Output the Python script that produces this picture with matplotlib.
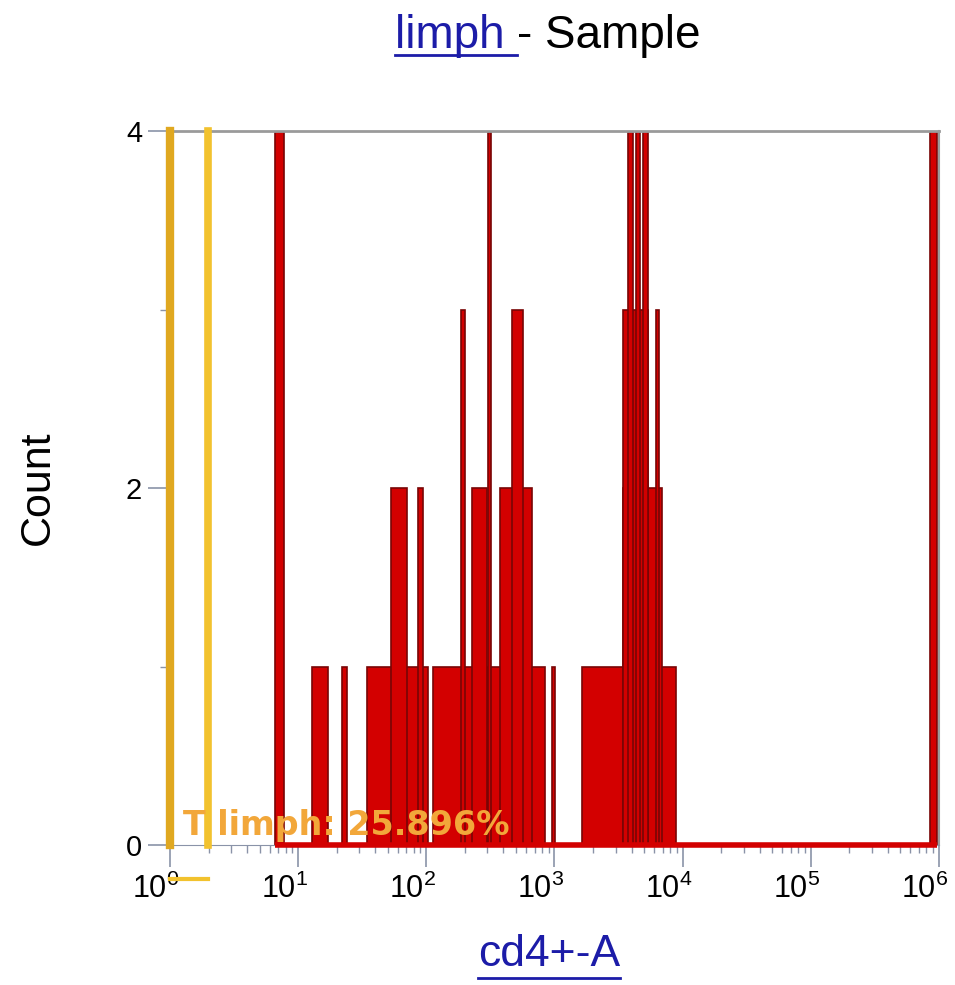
import matplotlib
matplotlib.use('Agg')
import matplotlib.pyplot as plt
import matplotlib.ticker as mticker
from matplotlib.lines import Line2D
from matplotlib.transforms import ScaledTranslation
import numpy as np

plt.rcParams['font.family'] = ['Liberation Sans', 'DejaVu Sans']

# Histogram segments: cd4+-A range (lo, hi) and event count
seg_lo = [34.6, 113, 12.9, 22.1, 964, 1655,
          53.3, 86.6, 229, 379, 3459,
          188, 470, 3459, 6155,
          6.6, 305, 3786, 4374, 4958, 851000]
seg_hi = [104, 851, 17.2, 24.1, 1018, 8817,
          71.1, 94.8, 300, 673, 6979,
          202, 573, 5420, 6610,
          7.8, 322, 4141, 4698, 5420, 964000]
seg_count = [1, 1, 1, 1, 1, 1,
             2, 2, 2, 2, 2,
             3, 3, 3, 3,
             4, 4, 4, 4, 4, 4]

# Gate "T limph" (yellow markers)
gate_lo, gate_hi = 1.0, 1.98
gate_label = 'T limph: 25.896%'

decades = [0, 1, 2, 3, 4, 5, 6]

red = '#D30000'
dark_red = '#780505'
blue = '#1C1CA8'
axis_gray = '#8A93A8'

fig = plt.figure(figsize=(9.55, 9.85), dpi=100)
ax = fig.add_axes([0.178, 0.1421, 0.805, 0.7249])

# bars, lowest first so taller outlines sit on top
lo = np.array(seg_lo)
hi = np.array(seg_hi)
cnt = np.array(seg_count)
order = np.argsort(cnt, kind='stable')
ax.bar(lo[order], cnt[order], width=hi[order] - lo[order], align='edge',
       color=red, edgecolor=dark_red, linewidth=1.2, zorder=2)
ax.hlines(0, lo.min(), hi.max(), color=red, lw=4, zorder=3, clip_on=False)

# gate markers
ax.axvline(gate_lo, color='#E0A820', lw=6, zorder=4, clip_on=False)
ax.axvline(gate_hi, color='#F2C22E', lw=5.5, zorder=4, clip_on=False)
ax.plot([gate_lo, gate_hi], [-0.19, -0.19], color='#F2C22E', lw=3,
        clip_on=False, zorder=4)
ax.text(0.017, 0.014, gate_label, transform=ax.transAxes, fontsize=24,
        fontweight='bold', family='DejaVu Sans', color='#F2A73A',
        va='baseline', zorder=5)

ax.set_xscale('log')
ax.set_xlim(1, 1e6)
ax.set_ylim(0, 4)

major = [10.0 ** d for d in decades]
minor = [m * 10.0 ** d for d in decades[:-1] for m in range(2, 10)]
ax.xaxis.set_major_locator(mticker.FixedLocator(major))
ax.xaxis.set_minor_locator(mticker.FixedLocator(minor))
ax.xaxis.set_minor_formatter(mticker.NullFormatter())
ax.xaxis.set_major_formatter(mticker.FixedFormatter(
    [r'$\mathregular{10^{%d}}$' % d for d in decades]))
ax.set_yticks([0, 2, 4])
ax.set_yticks([1, 3], minor=True)

ax.tick_params(axis='x', which='major', length=16, width=1.2, color=axis_gray,
               labelsize=22, pad=5)
ax.tick_params(axis='x', which='minor', length=6, width=1, color=axis_gray)
ax.tick_params(axis='y', which='major', length=16, width=1.2, color=axis_gray,
               labelsize=21, pad=4)
ax.tick_params(axis='y', which='minor', length=7, width=1, color=axis_gray)

offset = ScaledTranslation(7 / 72, 0, fig.dpi_scale_trans)
for lab in ax.get_xticklabels():
    lab.set_horizontalalignment('right')
    lab.set_transform(lab.get_transform() + offset)

for side in ['top', 'right', 'bottom', 'left']:
    ax.spines[side].set_color('#9A9A9A')
ax.spines['top'].set_linewidth(2)
ax.spines['right'].set_linewidth(1.5)
ax.spines['bottom'].set_color(axis_gray)

# title: underlined blue gate name followed by sample
t1 = fig.text(0.4136, 0.963, 'limph ', color=blue, fontsize=33, va='center')
t2 = ax.annotate('- Sample', xy=(1, 0), xycoords=t1, va='bottom', ha='left',
                 fontsize=33, color='black', annotation_clip=False)

xl = fig.text(0.575, 0.031, 'cd4+-A', color=blue, fontsize=32,
              ha='center', va='center')
fig.text(0.040, 0.5046, 'Count', rotation=90, fontsize=31,
         ha='center', va='center')

# underlines for the linked labels
fig.canvas.draw()
inv = fig.transFigure.inverted()
for t, y in [(t1, 0.944), (xl, 0.007)]:
    bb = t.get_window_extent()
    x0 = inv.transform((bb.x0, 0))[0]
    x1 = inv.transform((bb.x1, 0))[0]
    fig.add_artist(Line2D([x0, x1], [y, y], color=blue, lw=2,
                          transform=fig.transFigure))

fig.savefig('out.png', dpi=100)
